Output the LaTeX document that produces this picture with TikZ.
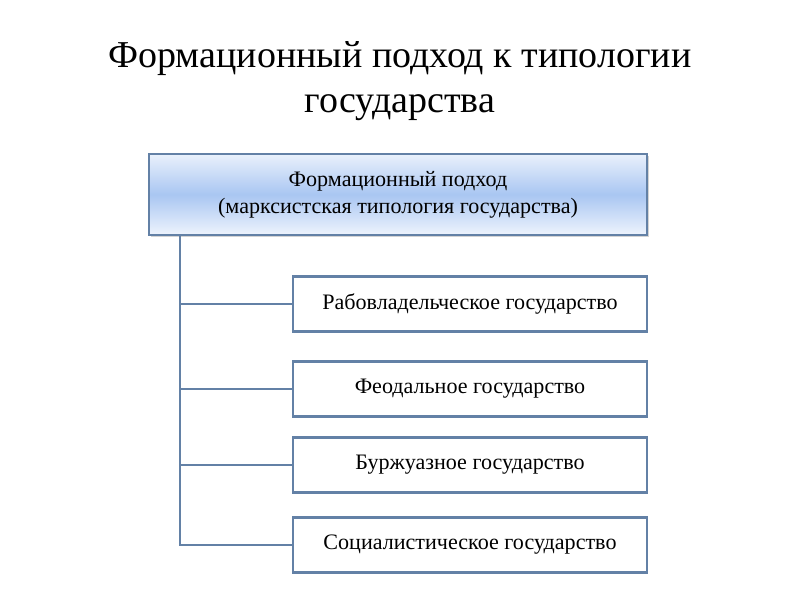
\documentclass[tikz,border=0pt]{standalone}
\usepackage{fontspec}
\setmainfont{Liberation Serif}
\usetikzlibrary{shadows}

\definecolor{frameblue}{HTML}{6381A6}
\definecolor{fillblue}{HTML}{A9C6F2}

\begin{document}
\begin{tikzpicture}[x=0.025cm,y=-0.025cm]
        \tikzstyle{every path}=[line width=1.5pt]

        \tikzstyle{head}=[draw=frameblue,line width=1.5pt,minimum width=12.45cm,minimum height=2.025cm,
            top color=fillblue!25,bottom color=fillblue!20,middle color=fillblue,
            drop shadow={opacity=0.35,shadow xshift=1.5pt,shadow yshift=-1.5pt},
            align=center,font=\fontsize{15.7}{19}\selectfont]
        \tikzstyle{kind}=[draw=frameblue,line width=1.5pt,fill=white,minimum width=8.85cm,minimum height=1.375cm,
            font=\fontsize{15.7}{19}\selectfont]
        \tikzstyle{link}=[draw=frameblue,line width=1.5pt]

        \useasboundingbox (0,0) rectangle (800,600);

        \node[align=center,font=\fontsize{27}{32}\selectfont] (title) at (400,81)
            {Формационный подход к типологии\\государства};

        \node[head] (formation) at (398,194.5)
            {Формационный подход\\(марксистская типология государства)};

        \node[kind] (slave)   at (470,304) {Рабовладельческое государство};
        \node[kind] (feudal)  at (470,389) {Феодальное государство};
        \node[kind] (bourg)   at (470,465) {Буржуазное государство};
        \node[kind] (social)  at (470,545) {Социалистическое государство};

        \coordinate (trunk) at (180,0);
        \draw[link] (formation.south -| trunk) |- (social.west);  % trunk -> socialist
        \draw[link] (trunk |- slave.west)  -- (slave.west);       % trunk -> slave-owning
        \draw[link] (trunk |- feudal.west) -- (feudal.west);      % trunk -> feudal
        \draw[link] (trunk |- bourg.west)  -- (bourg.west);       % trunk -> bourgeois

\end{tikzpicture}
\end{document}
